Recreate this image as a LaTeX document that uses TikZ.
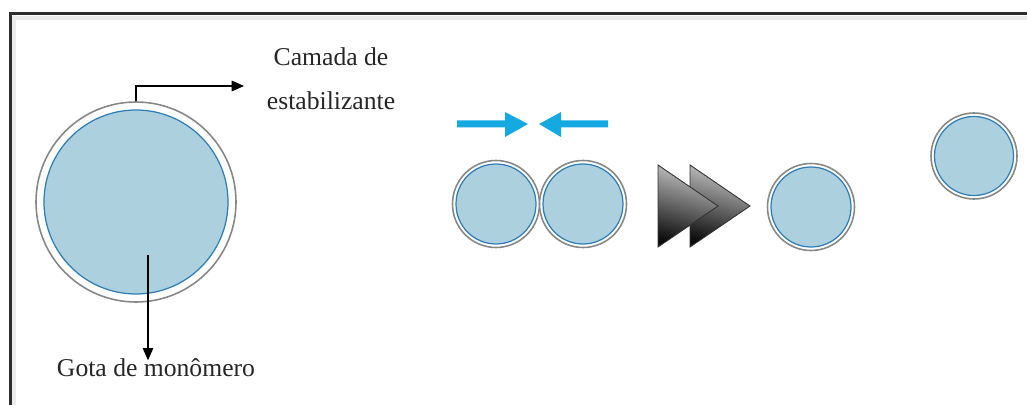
\documentclass[tikz,border=0pt]{standalone}
\usepackage{fontspec}
\setmainfont{Liberation Serif}
\usetikzlibrary{arrows.meta}
\definecolor{dropblue}{RGB}{173,208,222}
\definecolor{dropline}{RGB}{45,125,185}
\definecolor{ringline}{RGB}{135,135,135}
\definecolor{pushblue}{RGB}{20,170,225}
\definecolor{framegray}{RGB}{45,45,45}
\tikzset{
  ring/.style={circle, draw=ringline, line width=0.9pt, fill=white, inner sep=0pt},
  drop/.style={circle, draw=dropline, line width=0.7pt, fill=dropblue, inner sep=0pt},
  lbl/.style={font=\fontsize{14.6}{25}\selectfont, text=black!85, align=center, inner sep=0pt},
  lead/.style={line width=0.7pt, -{Triangle[length=7pt,width=6pt]}},
  push/.style={fill=pushblue, draw=none},
  tri/.style={draw=black!80, line width=0.5pt, top color=black!22, bottom color=black!95, shading angle=-15}
}
\begin{document}
\begin{tikzpicture}[x=0.02cm, y=-0.02cm]
\useasboundingbox (0,0) rectangle (1027,405);
% frame
\fill[black!8] (12,16) rectangle (1027,20);
\fill[black!8] (12,16) rectangle (16,405);
\draw[framegray, line width=1.8pt] (10.5,405) -- (10.5,13.5) -- (1027,13.5);

% big drop
\node[ring, minimum size=200*0.02cm] (bigR) at (136,202) {};
\node[drop, minimum size=184*0.02cm] (bigD) at (136,202) {};

% labels
\node[lbl] (camada) at (331,57) {Camada de};
\node[lbl] (estab) at (331,101) {estabilizante};
\node[lbl] (gota) at (156,368) {Gota de monômero};
\coordinate (tgt) at (244,86);
\draw[lead] (bigR.north) |- (tgt);
\coordinate (gsrc) at (148,255);
\draw[lead] (gsrc) -- ([yshift=-1pt]gota.north -| gsrc);

% blue arrows
\fill[push] (457,120.5) -- (505,120.5) -- (505,112) -- (528,124) -- (505,137) -- (505,127.5) -- (457,127.5) -- cycle;
\fill[push] (608,120.5) -- (561,120.5) -- (561,112) -- (539,124) -- (561,137) -- (561,127.5) -- (608,127.5) -- cycle;

% two drops
\node[ring, minimum size=87*0.02cm] (aR) at (496,204) {};
\node[drop, minimum size=80*0.02cm] (aD) at (496,204) {};
\node[ring, minimum size=87*0.02cm] (bR) at (583,204) {};
\node[drop, minimum size=80*0.02cm] (bD) at (583,204) {};

% double triangle
\shade[tri] (690,165) -- (750,206) -- (690,247) -- cycle;
\shade[tri] (658,165) -- (718,206) -- (658,247) -- cycle;

% merged drop
\node[ring, minimum size=87*0.02cm] (cR) at (811,207) {};
\node[drop, minimum size=80*0.02cm] (cD) at (811,207) {};

% separate drop
\node[ring, minimum size=86*0.02cm] (dR) at (974,156) {};
\node[drop, minimum size=79*0.02cm] (dD) at (974,156) {};
\end{tikzpicture}
\end{document}
